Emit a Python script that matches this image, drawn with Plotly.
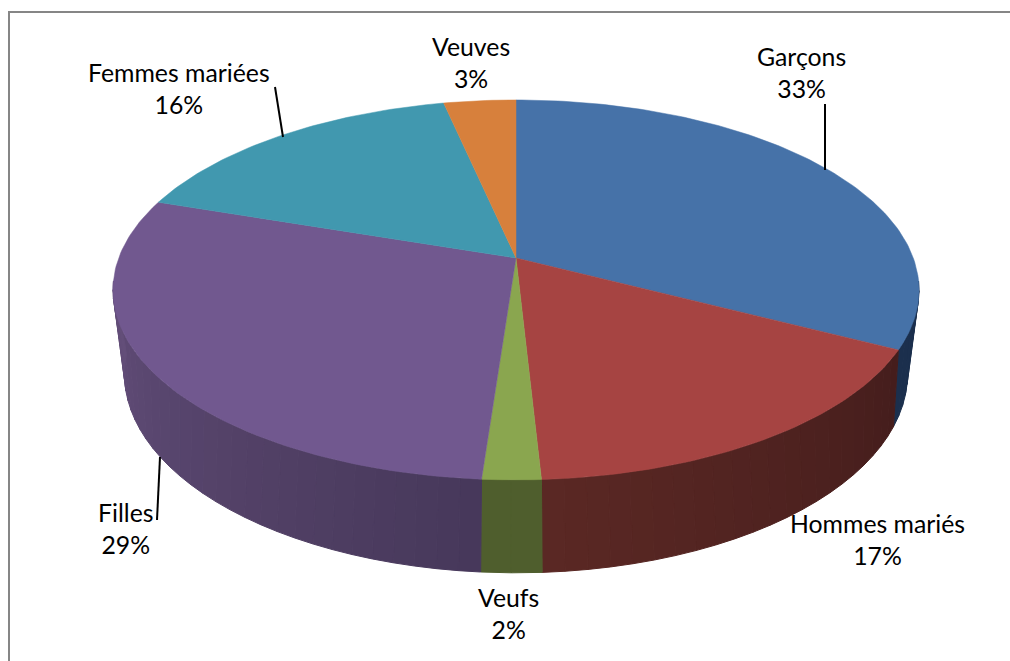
import math
import plotly.graph_objects as go

categories = ["Garçons", "Hommes mariés", "Veufs", "Filles", "Femmes mariées", "Veuves"]
values = [32.6, 16.55, 2.0, 29.0, 16.45, 3.4]
percent_labels = [33, 17, 2, 29, 16, 3]
top_colors = ["#4672A8", "#A64442", "#8AA64F", "#71588F", "#4198AF", "#D7803C"]
# side shading at start and end of each slice
side_start = ["#1B2F4D", "#451D1C", "#4F5E2D", "#47385A", "#2A6273", "#8A5226"]
side_end = ["#1B2F4D", "#5A2824", "#4F5E2D", "#634E7A", "#2A6273", "#8A5226"]

CX = 516
TOP = dict(A=397.3, B=184.6, k=0.168, y0=258)
BASE = dict(A=382.0, B=189.4, k=0.22, y0=330)
SIDE_FROM, SIDE_TO = math.radians(97), math.radians(263)


def project(theta, g):
    u, v = math.sin(theta), math.cos(theta)
    d = 1 + g["k"] * v
    return CX + g["A"] * u / d, g["y0"] - g["B"] * v / d


def hex_rgb(c):
    return [int(c[i:i + 2], 16) for i in (1, 3, 5)]


def mix(a, b, t):
    ra, rb = hex_rgb(a), hex_rgb(b)
    return "rgb(%d,%d,%d)" % tuple(round(x + (y - x) * t) for x, y in zip(ra, rb))


def poly(xs, ys, color):
    return go.Scatter(x=xs, y=ys, mode="lines", fill="toself", fillcolor=color,
                      line=dict(color=color, width=1), hoverinfo="skip", showlegend=False)


total = sum(values)
edges = [0.0]
for val in values:
    edges.append(edges[-1] + val / total * 2 * math.pi)

fig = go.Figure()
BAND = math.radians(2.6)

for i in range(len(values)):
    a0, a1 = edges[i], edges[i + 1]
    if a1 < SIDE_FROM or a0 > SIDE_TO:
        continue
    a0c, a1c = max(a0, SIDE_FROM), min(a1, SIDE_TO)
    n = max(1, int((a1c - a0c) / BAND))
    for j in range(n):
        t0 = a0c + (a1c - a0c) * j / n
        t1 = a0c + (a1c - a0c) * (j + 1) / n
        steps = 4
        angs = [t0 + (t1 - t0) * s / steps for s in range(steps + 1)]
        pts = [project(a, TOP) for a in angs] + [project(a, BASE) for a in reversed(angs)]
        xs = [p[0] for p in pts] + [pts[0][0]]
        ys = [p[1] for p in pts] + [pts[0][1]]
        fig.add_trace(poly(xs, ys, mix(side_start[i], side_end[i], (j + 0.5) / n)))

cx0, cy0 = project(math.pi / 2, dict(TOP, A=0, B=0))
for i in range(len(values)):
    a0, a1 = edges[i], edges[i + 1]
    n = max(6, int((a1 - a0) / math.radians(1)))
    angs = [a0 + (a1 - a0) * s / n for s in range(n + 1)]
    pts = [project(a, TOP) for a in angs]
    xs = [cx0] + [p[0] for p in pts] + [cx0]
    ys = [cy0] + [p[1] for p in pts] + [cy0]
    fig.add_trace(go.Scatter(x=xs, y=ys, mode="lines", fill="toself", fillcolor=top_colors[i],
                             line=dict(color=top_colors[i], width=0.5), hoverinfo="skip",
                             name=categories[i], showlegend=False))

label_pos = [(801, 72), (877, 539), (508, 613), (125, 528), (179, 88), (471, 62)]
annotations = [
    dict(x=p[0], y=p[1], xref="x", yref="y", text=f"{c}<br>{v}%", showarrow=False,
         align="center", xanchor="center", yanchor="middle",
         font=dict(family="Lato", size=24.8, color="#000000"))
    for c, v, p in zip(categories, percent_labels, label_pos)
]

leaders = [((825, 104), (825, 170)), ((275, 87), (283, 137)), ((157, 520), (160, 457))]
shapes = [dict(type="line", xref="x", yref="y", x0=a[0], y0=a[1], x1=b[0], y1=b[1],
               line=dict(color="#000000", width=2)) for a, b in leaders]
shapes.append(dict(type="path", xref="x", yref="y",
                   path="M 9 670 L 9 12 L 1020 12",
                   line=dict(color="#868686", width=2)))

fig.update_layout(
    width=1010, height=661, margin=dict(l=0, r=0, t=0, b=0),
    paper_bgcolor="#ffffff", plot_bgcolor="#ffffff", showlegend=False,
    xaxis=dict(range=[0, 1010], visible=False, fixedrange=True),
    yaxis=dict(range=[661, 0], visible=False, fixedrange=True),
    annotations=annotations, shapes=shapes,
)
fig.write_html("out.html", config={"displayModeBar": False},
               post_script="document.body.style.margin='0';document.documentElement.style.overflow='hidden';")
